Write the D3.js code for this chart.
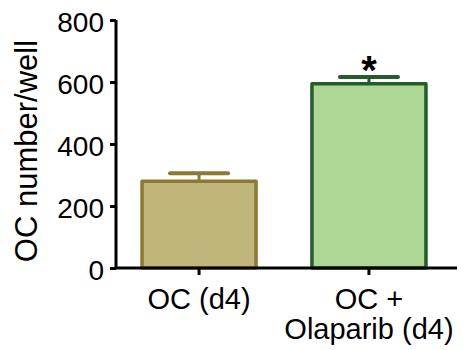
<!DOCTYPE html>
<html>
<head>
<meta charset="utf-8">
<script src="https://cdn.jsdelivr.net/npm/d3@7"></script>
<style>
    body { margin: 0; background: #fff; }
    text { font-family: "Liberation Sans", Arial, sans-serif; }
</style>
</head>
<body>
<svg width="471" height="350"></svg>
<script>
const categories = ['OC (d4)', 'OC + Olaparib (d4)'];
const labelLines = [['OC (d4)'], ['OC +', 'Olaparib (d4)']];
const means = [280, 594];
const errors = [26, 22];
const fills = ['#c0b57b', '#aed694'];
const strokes = ['#8a7a35', '#245d2b'];
const significant = [false, true];
const yTicks = [0, 200, 400, 600, 800];

const svg = d3.select('svg');

const x = d3.scaleBand()
    .domain(categories)
    .range([114, 454])
    .paddingInner(0.329)
    .paddingOuter(0.165);

const y = d3.scaleLinear()
    .domain([0, 800])
    .range([268, 20]);

const idx = d => categories.indexOf(d);
const cx = d => x(d) + x.bandwidth() / 2;

const bars = svg.append('g')
    .selectAll('g')
    .data(categories)
    .enter()
    .append('g');

// error bars drawn first so the bar top covers the stem
bars.append('line')
    .attr('x1', cx)
    .attr('x2', cx)
    .attr('y1', d => y(means[idx(d)]))
    .attr('y2', d => y(means[idx(d)] + errors[idx(d)]))
    .style('stroke', d => strokes[idx(d)])
    .style('stroke-width', 3);

bars.append('line')
    .attr('x1', d => cx(d) - 29)
    .attr('x2', d => cx(d) + 29)
    .attr('y1', d => y(means[idx(d)] + errors[idx(d)]))
    .attr('y2', d => y(means[idx(d)] + errors[idx(d)]))
    .style('stroke', d => strokes[idx(d)])
    .style('stroke-width', 4)
    .style('stroke-linecap', 'round');

bars.append('rect')
    .attr('x', d => x(d))
    .attr('width', x.bandwidth())
    .attr('y', d => y(means[idx(d)]))
    .attr('height', d => y(0) - y(means[idx(d)]))
    .style('fill', d => fills[idx(d)])
    .style('stroke', d => strokes[idx(d)])
    .style('stroke-width', 3.5)
    .style('stroke-linejoin', 'round');

bars.filter(d => significant[idx(d)])
    .append('text')
    .attr('x', cx)
    .attr('y', d => y(means[idx(d)] + errors[idx(d)]) + 7)
    .attr('text-anchor', 'middle')
    .style('font-size', '40px')
    .style('font-weight', 'bold')
    .text('*');

// y axis
const yAxis = svg.append('g')
    .attr('transform', 'translate(116,0)')
    .call(d3.axisLeft(y).tickValues(yTicks).tickSize(6).tickPadding(6));
yAxis.select('.domain').attr('d', `M0,${y(800)}V${y(0)}`).style('stroke-width', 3);
yAxis.selectAll('.tick line').style('stroke-width', 3);
yAxis.selectAll('.tick text')
    .style('font-size', '28px')
    .attr('dy', '0.4em')
    .style('fill', '#000');

// x axis
const xAxis = svg.append('g')
    .attr('transform', 'translate(0,268)')
    .call(d3.axisBottom(x).tickSize(7).tickFormat(''));
xAxis.select('.domain').attr('d', 'M115,0H457').style('stroke-width', 3);
xAxis.selectAll('.tick line').style('stroke-width', 3);

svg.append('g')
    .selectAll('text')
    .data(categories)
    .enter()
    .append('text')
    .attr('text-anchor', 'middle')
    .attr('x', cx)
    .attr('y', 309)
    .style('font-size', '29px')
    .each(function (d) {
        d3.select(this).selectAll('tspan')
            .data(labelLines[idx(d)])
            .enter()
            .append('tspan')
            .attr('x', cx(d))
            .attr('dy', (t, j) => j === 0 ? 0 : 30)
            .text(t => t);
    });

svg.append('text')
    .attr('transform', 'translate(37,151) rotate(-90)')
    .attr('text-anchor', 'middle')
    .style('font-size', '31px')
    .text('OC number/well');
</script>
</body>
</html>
